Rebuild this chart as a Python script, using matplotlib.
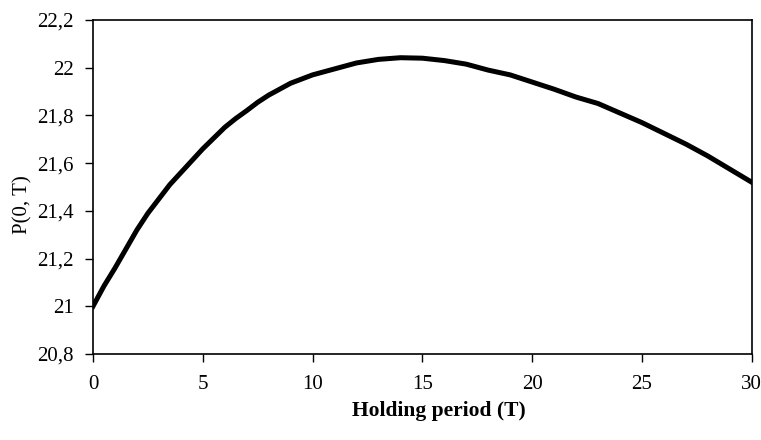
import numpy as np
import matplotlib.pyplot as plt
from matplotlib.ticker import FuncFormatter

# holding period and price
T = [0, 0.5, 1, 1.5, 2, 2.5, 3, 3.5, 4, 4.5, 5, 5.5, 6, 6.5, 7, 7.5, 8, 9,
     10, 11, 12, 13, 14, 15, 16, 17, 18, 19, 20, 21, 22, 23, 24, 25, 26, 27,
     28, 29, 30]
P = [21.00, 21.085, 21.16, 21.24, 21.32, 21.39, 21.45, 21.51, 21.56, 21.61,
     21.66, 21.705, 21.75, 21.787, 21.82, 21.855, 21.885, 21.935,
     21.97, 21.995, 22.02, 22.035, 22.042, 22.04, 22.03, 22.015, 21.99, 21.97,
     21.94, 21.91, 21.877, 21.85, 21.81, 21.77, 21.725, 21.68, 21.63, 21.575,
     21.52]

x_ticks = [0, 5, 10, 15, 20, 25, 30]
y_ticks = [20.8, 21.0, 21.2, 21.4, 21.6, 21.8, 22.0, 22.2]

plt.rcParams['font.family'] = ['Liberation Serif', 'DejaVu Serif']

fig = plt.figure(figsize=(7.61, 4.40), dpi=100)
ax = fig.add_axes([0.1222, 0.1955, 0.8656, 0.759])

ax.plot(T, P, color='black', linewidth=3.6, solid_joinstyle='round')

ax.set_xlim(0, 30)
ax.set_ylim(20.8, 22.2)
ax.set_xticks(x_ticks)
ax.set_yticks(y_ticks)


def comma_fmt(v, pos):
    s = ('%.1f' % v).rstrip('0').rstrip('.')
    return s.replace('.', ',')


ax.yaxis.set_major_formatter(FuncFormatter(comma_fmt))
ax.tick_params(axis='both', direction='out', length=6, width=1,
               labelsize=15, colors='black')
ax.tick_params(axis='x', pad=9)
ax.tick_params(axis='y', pad=8)

for sp in ax.spines.values():
    sp.set_linewidth(1.2)
    sp.set_color('black')

fig.text(0.577, 0.065, 'Holding period (T)', ha='center', va='center',
         fontsize=15.5, fontweight='bold')
fig.text(0.030, 0.535, 'P(0, T)', ha='center', va='center',
         fontsize=15, rotation=90)

fig.savefig('out.png', dpi=100)
